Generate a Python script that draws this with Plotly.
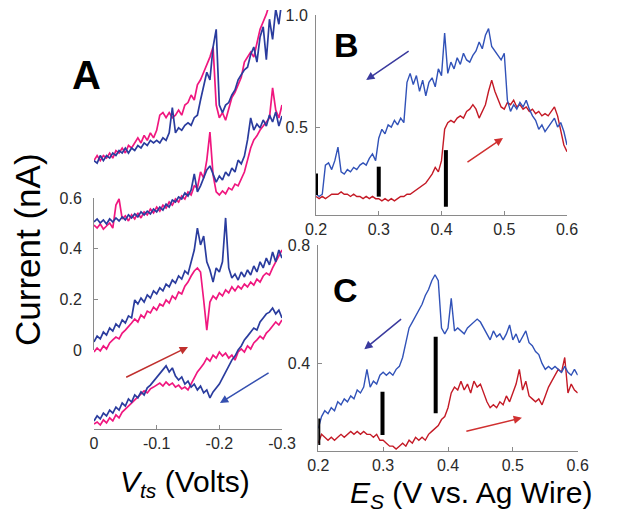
import numpy as np
import plotly.graph_objects as go

FONT = "Liberation Sans, Arial, Helvetica, sans-serif"

# ---------------- Panel A : tunnelling current vs bias (offset curves) ----------------
vts = np.linspace(0, -0.3, 61)  # bias grid (Volts)

a1_pink = [0.75,0.77,0.75,0.77,0.76,0.78,0.76,0.79,0.78,0.80,
           0.78,0.81,0.80,0.82,0.84,0.82,0.85,0.83,0.86,0.84,
           0.87,0.93,0.94,0.92,0.94,0.92,0.93,0.95,0.93,0.97,
           0.98,1.01,0.99,1.05,1.07,1.10,1.13,1.16,1.20,0.97,
           0.92,0.94,0.91,0.96,1.00,1.02,1.05,1.08,1.14,1.16,
           1.18,1.16,1.21,1.27,1.30,1.33,1.37,1.39,1.41,1.43,1.45]
a1_blue = [0.75,0.74,0.77,0.75,0.77,0.76,0.78,0.77,0.79,0.78,
           0.80,0.78,0.80,0.79,0.81,0.80,0.82,0.81,0.83,0.82,
           0.83,0.82,0.84,0.83,0.86,0.96,0.86,0.88,0.87,0.89,
           0.90,0.89,0.92,0.93,0.99,1.04,1.10,1.07,1.20,1.27,
           0.97,0.94,0.97,0.98,1.01,1.03,1.07,1.09,1.11,1.12,
           1.17,1.20,1.14,1.24,1.28,1.15,1.31,1.23,1.35,1.29,1.39]
a2_pink = [0.495,0.483,0.499,0.479,0.491,0.503,0.483,0.574,0.598,0.519,
           0.531,0.511,0.535,0.519,0.543,0.523,0.547,0.535,0.558,0.543,
           0.566,0.550,0.574,0.562,0.586,0.574,0.598,0.586,0.610,0.598,
           0.626,0.614,0.650,0.642,0.705,0.681,0.752,0.863,0.693,0.626,
           0.614,0.630,0.618,0.642,0.634,0.657,0.650,0.681,0.705,0.752,
           0.800,0.832,0.848,0.871,0.887,0.903,0.919,1.038,0.950,0.919,0.970]
a2_blue = [0.507,0.519,0.503,0.515,0.499,0.519,0.507,0.523,0.511,0.527,
           0.515,0.535,0.523,0.539,0.527,0.547,0.535,0.550,0.539,0.558,
           0.547,0.566,0.554,0.578,0.566,0.594,0.586,0.606,0.598,0.622,
           0.610,0.634,0.697,0.626,0.650,0.681,0.713,0.729,0.697,0.665,
           0.689,0.673,0.705,0.689,0.721,0.705,0.752,0.737,0.768,0.832,
           0.919,0.871,0.895,0.879,0.911,0.887,0.931,0.903,0.943,0.887,0.927]
a3_pink = [-0.008,0.008,-0.004,0.016,0.004,0.028,0.040,0.051,0.044,0.067,
           0.079,0.091,0.107,0.123,0.111,0.139,0.127,0.154,0.147,0.170,
           0.158,0.182,0.174,0.198,0.186,0.214,0.202,0.230,0.222,0.253,
           0.269,0.293,0.313,0.325,0.309,0.198,0.079,0.190,0.214,0.202,
           0.226,0.214,0.238,0.226,0.250,0.234,0.253,0.242,0.261,0.250,
           0.269,0.257,0.281,0.269,0.293,0.305,0.297,0.325,0.349,0.372,0.396]
a3_blue = [0.032,0.055,0.044,0.071,0.059,0.087,0.075,0.103,0.091,0.119,
           0.107,0.135,0.127,0.198,0.182,0.206,0.190,0.218,0.206,0.234,
           0.222,0.246,0.234,0.261,0.250,0.277,0.265,0.293,0.281,0.313,
           0.301,0.349,0.396,0.483,0.416,0.451,0.349,0.317,0.269,0.325,
           0.309,0.349,0.523,0.325,0.285,0.301,0.277,0.309,0.289,0.317,
           0.297,0.333,0.309,0.349,0.325,0.364,0.337,0.388,0.349,0.396,0.364]
a4_pink = [-0.293,-0.285,-0.297,-0.277,-0.289,-0.269,-0.281,-0.257,-0.269,-0.246,
           -0.234,-0.222,-0.210,-0.198,-0.186,-0.174,-0.162,-0.170,-0.154,-0.147,
           -0.139,-0.131,-0.143,-0.127,-0.139,-0.131,-0.147,-0.139,-0.154,-0.147,
           -0.158,-0.135,-0.111,-0.087,-0.071,-0.055,-0.032,-0.044,-0.020,-0.032,
           -0.008,-0.024,-0.012,-0.032,-0.020,-0.040,-0.008,0.004,-0.008,0.016,
           0.004,0.028,0.040,0.055,0.044,0.067,0.079,0.095,0.111,0.099,0.119]
a4_blue = [-0.281,-0.261,-0.273,-0.250,-0.261,-0.238,-0.250,-0.226,-0.238,-0.210,
           -0.222,-0.194,-0.206,-0.178,-0.190,-0.166,-0.178,-0.150,-0.139,-0.123,
           -0.107,-0.095,-0.079,-0.063,-0.087,-0.071,-0.103,-0.119,-0.107,-0.135,
           -0.123,-0.147,-0.135,-0.158,-0.143,-0.170,-0.158,-0.190,-0.166,-0.150,
           -0.135,-0.111,-0.087,-0.063,-0.040,-0.024,0.000,0.016,0.040,0.055,
           0.071,0.087,0.079,0.111,0.127,0.143,0.150,0.166,0.143,0.158,0.127]

a_ticks = [0, 0.2, 0.4, 0.6]
a_xticks = [0, -0.1, -0.2, -0.3]
a_xticktext = ["0", "-0.1", "-0.2", "-0.3"]

# ---------------- Panels B and C : current vs substrate potential ----------------
es = np.linspace(0.2, 0.6, 81)

b_blue = [0.20,0.19,0.20,0.33,0.34,0.31,0.35,0.41,0.30,0.29,
          0.31,0.30,0.32,0.31,0.33,0.34,0.33,0.36,0.38,0.35,
          0.45,0.49,0.47,0.51,0.50,0.53,0.51,0.54,0.52,0.70,
          0.74,0.69,0.73,0.66,0.71,0.64,0.70,0.72,0.68,0.76,
          0.73,0.92,0.74,0.79,0.76,0.81,0.78,0.83,0.80,0.79,
          0.82,0.84,0.88,0.85,0.91,0.94,0.86,0.84,0.82,0.80,
          0.83,0.62,0.57,0.60,0.58,0.61,0.59,0.62,0.58,0.55,
          0.53,0.49,0.51,0.48,0.50,0.52,0.54,0.50,0.52,0.48,0.42]
b_red = [0.19,0.18,0.19,0.18,0.19,0.20,0.20,0.20,0.21,0.20,
         0.20,0.19,0.20,0.19,0.19,0.18,0.19,0.18,0.19,0.18,
         0.18,0.17,0.18,0.17,0.18,0.17,0.18,0.19,0.19,0.20,
         0.20,0.21,0.22,0.23,0.24,0.25,0.27,0.29,0.32,0.30,
         0.35,0.49,0.52,0.53,0.52,0.54,0.55,0.54,0.57,0.58,
         0.60,0.58,0.54,0.57,0.60,0.66,0.71,0.66,0.62,0.59,
         0.58,0.61,0.60,0.62,0.59,0.60,0.58,0.59,0.57,0.58,
         0.56,0.57,0.55,0.56,0.55,0.57,0.59,0.55,0.49,0.42,0.39]
b_bar_x = [0.2, 0.3, 0.407]
b_bar_lo = [0.196, 0.189, 0.144]
b_bar_hi = [0.293, 0.323, 0.397]

c_blue = [0.18,0.22,0.24,0.23,0.25,0.24,0.27,0.26,0.28,0.27,
          0.29,0.28,0.31,0.30,0.32,0.38,0.32,0.34,0.33,0.36,
          0.37,0.36,0.37,0.36,0.38,0.39,0.42,0.47,0.52,0.54,
          0.56,0.58,0.60,0.63,0.65,0.68,0.70,0.68,0.52,0.50,
          0.52,0.62,0.51,0.52,0.51,0.50,0.52,0.53,0.54,0.55,
          0.54,0.52,0.50,0.48,0.51,0.49,0.50,0.48,0.50,0.53,
          0.48,0.50,0.47,0.49,0.51,0.47,0.46,0.44,0.43,0.40,
          0.38,0.39,0.38,0.39,0.38,0.37,0.39,0.37,0.36,0.38,0.36]
c_red = [0.13,0.16,0.15,0.14,0.15,0.14,0.15,0.16,0.15,0.16,
         0.17,0.16,0.17,0.16,0.17,0.16,0.16,0.15,0.16,0.14,
         0.14,0.13,0.12,0.12,0.11,0.12,0.13,0.12,0.14,0.13,
         0.15,0.14,0.15,0.14,0.16,0.17,0.18,0.19,0.21,0.22,
         0.25,0.30,0.32,0.31,0.34,0.31,0.33,0.30,0.34,0.32,
         0.33,0.30,0.27,0.25,0.26,0.25,0.27,0.26,0.29,0.27,
         0.30,0.33,0.38,0.31,0.34,0.29,0.28,0.27,0.28,0.26,
         0.29,0.32,0.34,0.36,0.38,0.37,0.42,0.30,0.33,0.31,0.30]
c_bar_x = [0.2, 0.299, 0.381]
c_bar_lo = [0.124, 0.158, 0.231]
c_bar_hi = [0.214, 0.304, 0.490]

es_ticks = [0.2, 0.3, 0.4, 0.5, 0.6]
b_yticks = [0.5, 1.0]
c_yticks = [0.4, 0.8]

PINK = "#f0177f"
ABLUE = "#2a3c9e"
RED = "#c41a26"
BBLUE = "#3152b8"
AX = "#8a8a8a"
TXT = "#2a2a2a"

# The page body has an 8 px margin; the figure is sized so that it fits the window.
W, H, OFF = 615, 506, 8

def px(x):
    return (x - OFF) / W

def py(y):
    return 1 - (y - OFF) / H

fig = go.Figure()

for pk, bl in [(a1_pink, a1_blue), (a2_pink, a2_blue), (a3_pink, a3_blue), (a4_pink, a4_blue)]:
    fig.add_trace(go.Scatter(x=vts, y=pk, mode="lines", line=dict(color=PINK, width=1.7),
                             xaxis="x", yaxis="y", showlegend=False, hoverinfo="skip"))
    fig.add_trace(go.Scatter(x=vts, y=bl, mode="lines", line=dict(color=ABLUE, width=1.7),
                             xaxis="x", yaxis="y", showlegend=False, hoverinfo="skip"))

fig.add_trace(go.Scatter(x=[], y=[], xaxis="x4", yaxis="y4", showlegend=False))

fig.add_trace(go.Scatter(x=es, y=b_red, mode="lines", line=dict(color=RED, width=1.4),
                         xaxis="x2", yaxis="y2", showlegend=False))
fig.add_trace(go.Scatter(x=es, y=b_blue, mode="lines", line=dict(color=BBLUE, width=1.4),
                         xaxis="x2", yaxis="y2", showlegend=False))
for bx, lo, hi in zip(b_bar_x, b_bar_lo, b_bar_hi):
    fig.add_trace(go.Scatter(x=[bx, bx], y=[lo, hi], mode="lines", line=dict(color="black", width=4),
                             xaxis="x2", yaxis="y2", showlegend=False))

fig.add_trace(go.Scatter(x=es, y=c_red, mode="lines", line=dict(color=RED, width=1.4),
                         xaxis="x3", yaxis="y3", showlegend=False))
fig.add_trace(go.Scatter(x=es, y=c_blue, mode="lines", line=dict(color=BBLUE, width=1.4),
                         xaxis="x3", yaxis="y3", showlegend=False))
for bx, lo, hi in zip(c_bar_x, c_bar_lo, c_bar_hi):
    fig.add_trace(go.Scatter(x=[bx, bx], y=[lo, hi], mode="lines", line=dict(color="black", width=4),
                             xaxis="x3", yaxis="y3", showlegend=False))

tickfont = dict(family=FONT, size=16, color=TXT)
common = dict(showline=True, linecolor=AX, linewidth=1, ticks="inside", ticklen=4,
              tickcolor=AX, showgrid=False, zeroline=False, tickfont=tickfont, automargin=False,
              ticklabeloverflow="allow")

ax_a = [px(94), px(282)]
fig.update_layout(
    template="none",
    width=W, height=H, autosize=False,
    margin=dict(l=0, r=0, t=0, b=0, pad=0),
    paper_bgcolor="white", plot_bgcolor="rgba(0,0,0,0)",
    font=dict(family=FONT, color=TXT),
    xaxis=dict(domain=ax_a, range=[0, -0.3], anchor="y",
               tickvals=a_xticks, ticktext=a_xticktext, ticklabelstandoff=0, **common),
    yaxis=dict(domain=[py(429), py(10)], range=[-0.3129, 1.3465], anchor="x", visible=False,
               automargin=False),
    xaxis4=dict(domain=ax_a, range=[0, -0.3], anchor="y4", visible=False, automargin=False),
    yaxis4=dict(domain=[py(350), py(198)], range=[0, 0.6], anchor="x4",
                tickvals=a_ticks, ticktext=["0", "0.2", "0.4", "0.6"], ticklabelstandoff=8, **common),
    xaxis2=dict(domain=[px(316), px(567)], range=[0.2, 0.6], anchor="y2",
                tickvals=es_ticks, ticktext=["0.2", "0.3", "0.4", "0.5", "0.6"], ticklabelstandoff=0, **common),
    yaxis2=dict(domain=[py(215), py(15)], range=[0.1071, 1.0008], anchor="x2",
                tickvals=b_yticks, ticktext=["0.5", "1.0"], ticklabelstandoff=4, **common),
    xaxis3=dict(domain=[px(318.3), px(577.7)], range=[0.2, 0.6], anchor="y3",
                tickvals=es_ticks, ticktext=["0.2", "0.3", "0.4", "0.5", "0.6"], ticklabelstandoff=0, **common),
    yaxis3=dict(domain=[py(451), py(245)], range=[0.1036, 0.8008], anchor="x3",
                tickvals=c_yticks, ticktext=["0.4", "0.8"], ticklabelstandoff=4, **common),
)

ann = []
def label(text, x, y, size, angle=0):
    ann.append(dict(text=text, x=px(x), y=py(y), xref="paper", yref="paper",
                    xanchor="center", yanchor="middle", textangle=angle, showarrow=False,
                    font=dict(family=FONT, size=size, color="black")))

# panel letters
label("<b>A</b>", 86, 75, 40)
label("<b>B</b>", 346, 45, 34)
label("<b>C</b>", 345, 290, 34)
# axis titles
label("Current (nA)", 27, 250, 35, -90)
label("<i>V</i><sub><i>ts</i></sub> (Volts)", 185, 483, 30)
label("<i>E</i><sub><i>S</i></sub> (V vs. Ag Wire)", 471, 494, 30)

# sweep-direction arrows: (head_x, head_y, tail_x, tail_y, color, axis suffix)
arrows = [
    (-0.150, 0.012, -0.049, -0.111, "#c0302e", ""),
    (-0.201, -0.210, -0.281, -0.087, "#3550b0", ""),
    (0.280, 0.710, 0.350, 0.844, "#3a3a9e", "2"),
    (0.498, 0.451, 0.439, 0.339, "#d03030", "2"),
    (0.271, 0.448, 0.330, 0.554, "#3a3a9e", "3"),
    (0.514, 0.216, 0.426, 0.169, "#d03030", "3"),
]
for hx, hy, tx, ty, col, s in arrows:
    ann.append(dict(x=hx, y=hy, ax=tx, ay=ty, xref="x" + s, yref="y" + s,
                    axref="x" + s, ayref="y" + s, text="", showarrow=True,
                    arrowhead=2, arrowsize=1.1, arrowwidth=1.5, arrowcolor=col))

fig.update_layout(annotations=ann)
fig.write_html("out.html")
